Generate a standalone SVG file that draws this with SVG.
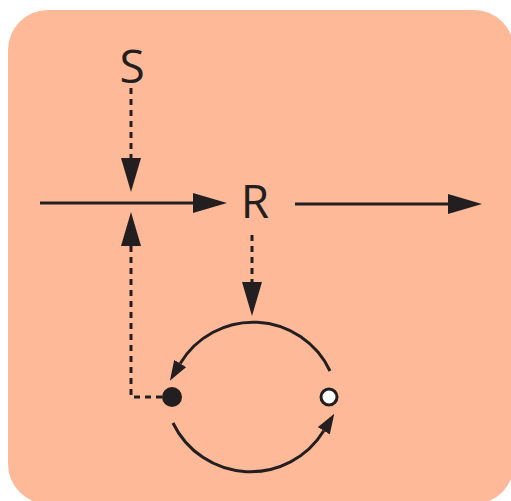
<svg xmlns="http://www.w3.org/2000/svg" width="511" height="501" viewBox="0 0 511 501">
  <defs>
    <style>
      .bg { fill: #FEBA98; }
      .label { font-family: "Open Sans", "Liberation Sans", sans-serif; font-size: 46px; fill: #231F20; text-anchor: middle; }
      .solid { fill: none; stroke: #231F20; stroke-width: 3; }
      .dashed { fill: none; stroke: #231F20; stroke-width: 3; stroke-dasharray: 6 5; }
    </style>
    <marker id="head" markerUnits="userSpaceOnUse" markerWidth="34" markerHeight="20" viewBox="0 0 34 20" refX="0" refY="10" orient="auto">
      <path d="M0,0 L34,10 L0,20 z" fill="#231F20"/>
    </marker>
    <marker id="headSmall" markerUnits="userSpaceOnUse" markerWidth="20" markerHeight="14" viewBox="0 0 20 14" refX="0" refY="7" orient="auto">
      <path d="M0,0 L20,7 L0,14 z" fill="#231F20"/>
    </marker>
  </defs>

  <rect class="bg" x="8" y="10" width="506" height="494" rx="40" ry="40"/>

  <g id="S">
    <text class="label" x="132" y="83">S</text>
  </g>
  <g id="R">
    <text class="label" x="255" y="218">R</text>
  </g>
  <g id="active">
    <circle cx="172" cy="397" r="10" fill="#231F20"/>
  </g>
  <g id="inactive">
    <circle cx="329" cy="397" r="8" fill="#FFFFFF" stroke="#231F20" stroke-width="3"/>
  </g>

  <g id="connectors">
    <!-- main flow into and out of R -->
    <path class="solid" d="M40,203 H193" marker-end="url(#head)"/>
    <path class="solid" d="M295,204 H448" marker-end="url(#head)"/>
    <!-- S acting on the flow -->
    <path class="dashed" d="M131,88 V158" marker-end="url(#head)"/>
    <!-- feedback from the active state -->
    <path class="dashed" d="M162,397 H131 V246" marker-end="url(#head)"/>
    <!-- R driving the cycle -->
    <path class="dashed" d="M252,235 V282" marker-end="url(#head)"/>
    <!-- cycle between the two states -->
    <path class="solid" d="M330,371 A85,85 0 0,0 180.2,363.5" marker-end="url(#headSmall)"/>
    <path class="solid" d="M173,423 A86,86 0 0,0 323.8,430.8" marker-end="url(#headSmall)"/>
  </g>
</svg>
